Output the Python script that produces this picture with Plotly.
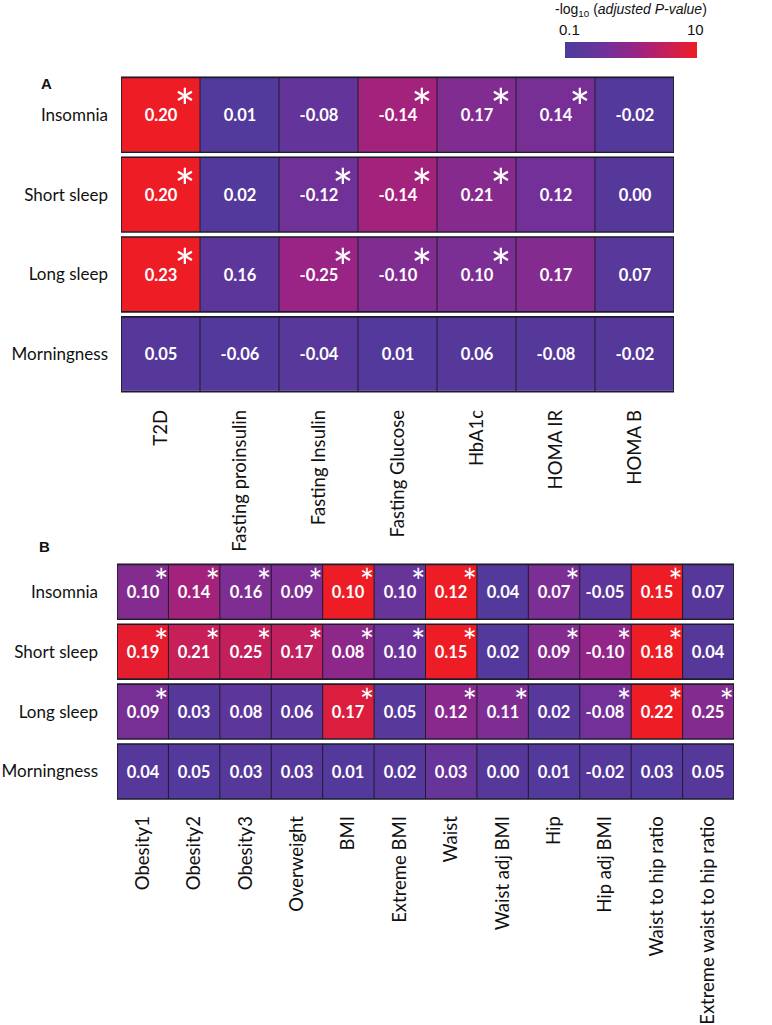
import numpy as np
import plotly.graph_objects as go

# ---------------- data ----------------
traits = ["Insomnia", "Short sleep", "Long sleep", "Morningness"]

glycemic = ["T2D", "Fasting proinsulin", "Fasting Insulin", "Fasting Glucose",
            "HbA1c", "HOMA IR", "HOMA B"]
beta_A = [
    [0.20, 0.01, -0.08, -0.14, 0.17, 0.14, -0.02],
    [0.20, 0.02, -0.12, -0.14, 0.21, 0.12, 0.00],
    [0.23, 0.16, -0.25, -0.10, 0.10, 0.17, 0.07],
    [0.05, -0.06, -0.04, 0.01, 0.06, -0.08, -0.02],
]
# estimated -log10(adjusted P)
nlp_A = [
    [10, 0.13, 0.25, 1.5, 0.65, 0.5, 0.14],
    [10, 0.14, 0.42, 1.5, 0.75, 0.45, 0.15],
    [10, 0.2, 1.2, 0.65, 0.55, 0.7, 0.16],
    [0.15, 0.14, 0.16, 0.14, 0.15, 0.15, 0.15],
]
star_A = [
    [1, 0, 0, 1, 1, 1, 0],
    [1, 0, 1, 1, 1, 0, 0],
    [1, 0, 1, 1, 1, 0, 0],
    [0, 0, 0, 0, 0, 0, 0],
]

obesity = ["Obesity1", "Obesity2", "Obesity3", "Overweight", "BMI", "Extreme BMI",
           "Waist", "Waist adj BMI", "Hip", "Hip adj BMI", "Waist to hip ratio",
           "Extreme waist to hip ratio"]
beta_B = [
    [0.10, 0.14, 0.16, 0.09, 0.10, 0.10, 0.12, 0.04, 0.07, -0.05, 0.15, 0.07],
    [0.19, 0.21, 0.25, 0.17, 0.08, 0.10, 0.15, 0.02, 0.09, -0.10, 0.18, 0.04],
    [0.09, 0.03, 0.08, 0.06, 0.17, 0.05, 0.12, 0.11, 0.02, -0.08, 0.22, 0.25],
    [0.04, 0.05, 0.03, 0.03, 0.01, 0.02, 0.03, 0.00, 0.01, -0.02, 0.03, 0.05],
]
nlp_B = [
    [0.7, 1.5, 0.6, 0.6, 10, 0.3, 10, 0.14, 0.55, 0.2, 10, 0.15],
    [8, 3.5, 3.2, 3.0, 0.9, 0.35, 10, 0.14, 0.7, 1.0, 10, 0.15],
    [0.5, 0.15, 0.2, 0.18, 6, 0.16, 0.8, 0.6, 0.16, 0.45, 10, 0.7],
    [0.15, 0.14, 0.15, 0.15, 0.14, 0.15, 0.3, 0.15, 0.14, 0.15, 0.14, 0.15],
]
star_B = [
    [1, 1, 1, 1, 1, 1, 1, 0, 1, 0, 1, 0],
    [1, 1, 1, 1, 1, 1, 1, 0, 1, 1, 1, 0],
    [1, 0, 0, 0, 1, 0, 1, 1, 0, 1, 1, 1],
    [0, 0, 0, 0, 0, 0, 0, 0, 0, 0, 0, 0],
]

cbar_ticks = [0.1, 10]

# ---------------- layout helpers ----------------
W, H = 772, 1025
def px(x): return x / W
def py(y): return 1 - y / H

colorscale = [[0.0, "#4C3B9C"], [0.3, "#6E329A"], [0.55, "#9B2384"],
              [0.8, "#CC1F52"], [1.0, "#EE1C24"]]

FONT = "Lato"
fig = go.Figure()

panels = [
    dict(cols=glycemic, beta=beta_A, nlp=nlp_A, star=star_A, xa="x", ya="y",
         xd=[121, 674], yd=[75, 395], gap=5, sfont=50, sdx=0.31, sdy=0.01,
         xstand=11, ystand=12, scale=True),
    dict(cols=obesity, beta=beta_B, nlp=nlp_B, star=star_B, xa="x2", ya="y2",
         xd=[117, 734], yd=[563, 803], gap=5, sfont=34, sdx=0.36, sdy=0.1,
         xstand=10, ystand=18, scale=False),
]

shapes = []
for k, p in enumerate(panels):
    ncol = len(p["cols"])
    nrow = len(traits)
    z = np.log10(np.array(p["nlp"], dtype=float))
    text = [[f"{v:.2f}" for v in row] for row in p["beta"]]
    hm = go.Heatmap(
        z=z, x=list(range(ncol)), y=list(range(nrow)), text=text,
        texttemplate="<b>%{text}</b>",
        textfont=dict(family=FONT, size=16.5, color="white"),
        colorscale=colorscale, zmin=-1, zmax=1, xgap=0, ygap=p["gap"],
        xaxis=p["xa"], yaxis=p["ya"], showscale=p["scale"],
        hoverinfo="skip",
    )
    if p["scale"]:
        hm.colorbar = dict(orientation="h", x=px(631), xanchor="center",
                           y=py(50), yanchor="middle", len=132 / W,
                           lenmode="fraction", thickness=16,
                           thicknessmode="pixels", showticklabels=False,
                           ticks="", outlinewidth=0, xpad=0, ypad=0)
    fig.add_trace(hm)

    sx, sy = [], []
    for i in range(nrow):
        for j in range(ncol):
            if p["star"][i][j]:
                sx.append(j + p["sdx"])
                sy.append(i - p["sdy"])
    fig.add_trace(go.Scatter(
        x=sx, y=sy, mode="text", text=["*"] * len(sx),
        textfont=dict(family=FONT, size=p["sfont"], color="white"),
        xaxis=p["xa"], yaxis=p["ya"], showlegend=False, hoverinfo="skip"))

    pitch = (p["yd"][1] - p["yd"][0]) / nrow
    g = (p["gap"] / 2) / pitch
    xr = "x" if k == 0 else "x2"
    yr = "y" if k == 0 else "y2"
    for i in range(nrow):
        shapes.append(dict(type="rect", xref=xr, yref=yr, x0=-0.5, x1=ncol - 0.5,
                           y0=i - 0.5 + g, y1=i + 0.5 - g,
                           line=dict(color="#1c1c2a", width=1.6)))
        for j in range(ncol - 1):
            shapes.append(dict(type="line", xref=xr, yref=yr, x0=j + 0.5, x1=j + 0.5,
                               y0=i - 0.5 + g, y1=i + 0.5 - g,
                               line=dict(color="#1c1c2a", width=1.0)))

    axx = dict(domain=[px(p["xd"][0]), px(p["xd"][1])], range=[-0.5, ncol - 0.5],
               tickvals=list(range(ncol)), ticktext=p["cols"], tickangle=-90,
               showgrid=False, zeroline=False, showline=False, ticks="",
               ticklabelstandoff=p["xstand"],
               tickfont=dict(family=FONT, size=18.5, color="#111"),
               anchor=yr)
    axy = dict(domain=[py(p["yd"][1]), py(p["yd"][0])], range=[nrow - 0.5, -0.5],
               tickvals=list(range(nrow)), ticktext=traits,
               showgrid=False, zeroline=False, showline=False, ticks="",
               ticklabelstandoff=p["ystand"],
               tickfont=dict(family=FONT, size=17, color="#111"),
               anchor=xr)
    if k == 0:
        fig.update_layout(xaxis=axx, yaxis=axy)
    else:
        fig.update_layout(xaxis2=axx, yaxis2=axy)

def ann(text, x, y, size, family="Liberation Sans"):
    return dict(text=text, x=px(x), y=py(y), xref="paper", yref="paper",
                xanchor="center", yanchor="middle", showarrow=False,
                font=dict(family=family, size=size, color="#111"))

annotations = [
    ann("<b>A</b>", 46, 84, 15),
    ann("<b>B</b>", 44, 548, 15),
    ann("-log<sub>10</sub> (<i>adjusted P-value</i>)", 631, 10, 14),
    ann(f"{cbar_ticks[0]:g}", 569, 30, 15),
    ann(f"{cbar_ticks[1]:g}", 695, 30, 15),
]

fig.update_layout(width=W, height=H, autosize=False,
                  margin=dict(l=0, r=0, t=0, b=0),
                  paper_bgcolor="white", plot_bgcolor="white",
                  shapes=shapes, annotations=annotations, showlegend=False)

fig.write_html("out.html", config={"displayModeBar": False, "staticPlot": True},
               post_script="document.body.style.margin='0';document.body.style.overflow='hidden';")
